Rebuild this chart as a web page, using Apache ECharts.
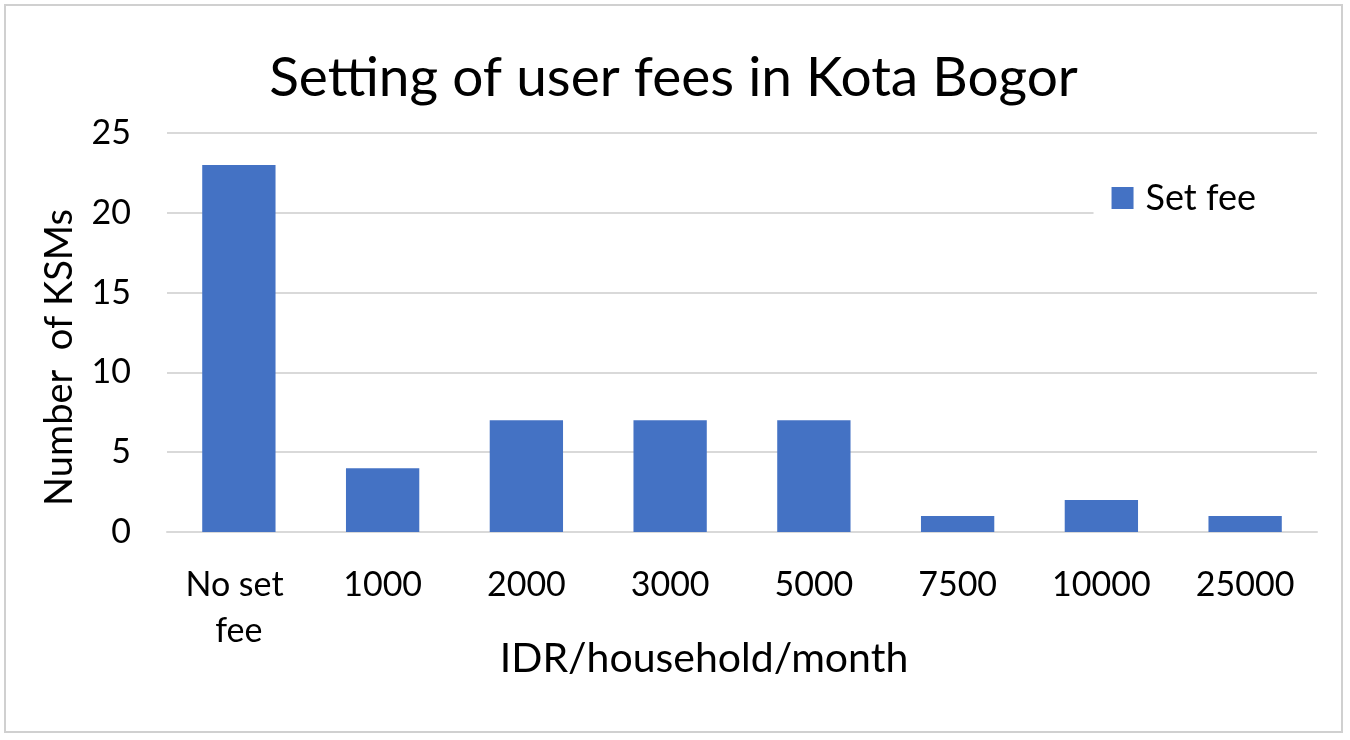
<!DOCTYPE html>
<html>
<head>
<meta charset="utf-8">
<script src="https://cdn.jsdelivr.net/npm/echarts@6/dist/echarts.min.js"></script>
<style>
  html, body { margin: 0; padding: 0; background: #fff; }
  #chart { position: absolute; left: 4px; top: 4px; width: 1339px; height: 729px; border: 2px solid #d0d0d0; box-sizing: border-box; }
</style>
</head>
<body>
<div id="chart"></div>
<script>
// fee levels (IDR/household/month)
const categories = ['No set fee', '1000', '2000', '3000', '5000', '7500', '10000', '25000'];
// number of KSMs per fee level
const setFee = [23, 4, 7, 7, 7, 1, 2, 1];
const yTicks = { min: 0, max: 25, interval: 5 };

const font = 'Lato, "Open Sans", sans-serif';
const chart = echarts.init(document.getElementById('chart'));
chart.setOption({
  textStyle: { fontFamily: font },
  title: {
    text: 'Setting of user fees in Kota Bogor',
    left: 'center',
    top: 40,
    textStyle: { fontFamily: font, fontSize: 55, fontWeight: 'normal', color: '#000' }
  },
  legend: {
    data: ['Set fee'],
    right: 23,
    top: 170,
    icon: 'rect',
    itemWidth: 22,
    itemHeight: 22,
    itemGap: 10,
    backgroundColor: '#fff',
    padding: [4, 62, 4, 18],
    textStyle: { fontFamily: font, fontSize: 36, color: '#000', padding: [0, 0, 0, 7] }
  },
  grid: { left: 161, right: 24, top: 127, bottom: 199 },
  xAxis: {
    type: 'category',
    data: categories,
    name: 'IDR/household/month',
    nameLocation: 'middle',
    nameGap: 106,
    nameMoveOverlap: false,
    nameTextStyle: { fontFamily: font, fontSize: 41, color: '#000', padding: [0, 76, 0, 0] },
    axisLine: { lineStyle: { color: '#d9d9d9', width: 2 } },
    axisTick: { show: false },
    axisLabel: {
      interval: 0,
      fontFamily: font, fontSize: 34, color: '#000', margin: 30,
      width: 120, overflow: 'break', lineHeight: 46
    }
  },
  yAxis: {
    type: 'value',
    min: yTicks.min,
    max: yTicks.max,
    interval: yTicks.interval,
    name: 'Number  of KSMs',
    nameLocation: 'middle',
    nameGap: 88,
    nameTextStyle: { fontFamily: font, fontSize: 38, color: '#000', padding: [0, 50, 0, 0] },
    axisLine: { show: false },
    axisTick: { show: false },
    axisLabel: { fontFamily: font, fontSize: 34, color: '#000', margin: 36 },
    splitLine: { lineStyle: { color: '#d9d9d9', width: 2 } }
  },
  series: [
    {
      name: 'Set fee',
      type: 'bar',
      data: setFee,
      barWidth: '51%',
      itemStyle: { color: '#4472C4' }
    }
  ]
});
</script>
</body>
</html>
